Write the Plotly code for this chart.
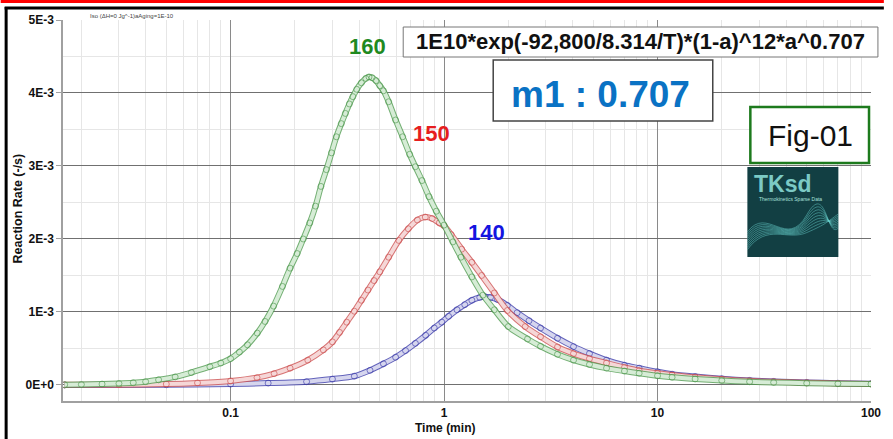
import plotly.graph_objects as go

# Reaction rate (units of 1E-3 /s) versus time (min) at three isothermal temperatures
RATE_UNIT = 1e-3

time_160 = [0.0167, 0.02, 0.025, 0.03, 0.035, 0.04, 0.046, 0.055, 0.0655, 0.08, 0.09, 0.1,
            0.11, 0.12, 0.1334, 0.145, 0.159, 0.175, 0.19, 0.205, 0.219, 0.235, 0.25, 0.265,
            0.281, 0.297, 0.313, 0.33, 0.345, 0.36, 0.374, 0.39, 0.41, 0.43, 0.445, 0.46,
            0.48, 0.50, 0.52, 0.55, 0.593, 0.64, 0.69, 0.734, 0.788, 0.85, 0.92, 1.0, 1.1,
            1.2, 1.35, 1.52, 1.72, 2.0, 2.46, 2.83, 3.4, 4.04, 4.8, 5.77, 7.0, 8.2, 10,
            11.7, 15, 20, 27, 35, 50, 70, 100]
rate_160 = [0.003, 0.006, 0.012, 0.02, 0.03, 0.045, 0.07, 0.11, 0.17, 0.25, 0.30, 0.36,
            0.45, 0.55, 0.71, 0.87, 1.08, 1.35, 1.60, 1.80, 2.0, 2.22, 2.45, 2.72,
            2.95, 3.18, 3.40, 3.58, 3.72, 3.85, 3.95, 4.05, 4.14, 4.20, 4.22, 4.21,
            4.17, 4.10, 4.03, 3.88, 3.63, 3.40, 3.16, 2.99, 2.80, 2.58, 2.38, 2.19, 1.96,
            1.75, 1.48, 1.23, 1.03, 0.80, 0.63, 0.53, 0.42, 0.34, 0.28, 0.23, 0.19, 0.16, 0.125,
            0.105, 0.082, 0.060, 0.044, 0.034, 0.024, 0.017, 0.012]

time_150 = [0.0167, 0.03, 0.05, 0.07, 0.1, 0.133, 0.16, 0.19, 0.23, 0.272, 0.30, 0.324,
            0.35, 0.38, 0.41, 0.44, 0.47, 0.50, 0.55, 0.614, 0.68, 0.75, 0.817, 0.88,
            0.95, 1.0, 1.08, 1.21, 1.35, 1.5, 1.72, 1.98, 2.4, 2.83, 3.4, 4.04, 4.8,
            5.77, 7.0, 8.2, 10, 11.7, 15, 20, 27, 35, 50, 70, 100]
rate_150 = [0.001, 0.004, 0.012, 0.028, 0.055, 0.10, 0.155, 0.23, 0.34, 0.48, 0.59, 0.72,
            0.86, 1.01, 1.16, 1.30, 1.43, 1.55, 1.75, 1.98, 2.14, 2.26, 2.30, 2.28,
            2.22, 2.18, 2.06, 1.86, 1.68, 1.50, 1.26, 1.02, 0.80, 0.66, 0.52, 0.43, 0.36,
            0.30, 0.24, 0.196, 0.16, 0.137, 0.105, 0.077, 0.056, 0.043, 0.030, 0.021, 0.014]

time_140 = [0.0167, 0.05, 0.1, 0.15, 0.227, 0.3, 0.38, 0.45, 0.52, 0.593, 0.66, 0.734,
            0.82, 0.9, 0.976, 1.05, 1.15, 1.25, 1.35, 1.47, 1.55, 1.65, 1.78, 1.98, 2.2,
            2.5, 2.83, 3.4, 4.04, 4.8, 5.77, 7.0, 8.2, 10, 11.7, 15, 20, 27, 35, 50, 70, 100]
rate_140 = [0.0, 0.003, 0.012, 0.025, 0.045, 0.08, 0.12, 0.20, 0.29, 0.38, 0.47, 0.57,
            0.68, 0.78, 0.86, 0.94, 1.03, 1.10, 1.16, 1.20, 1.21, 1.20, 1.17, 1.09, 0.99,
            0.88, 0.78, 0.64, 0.525, 0.43, 0.34, 0.27, 0.23, 0.18, 0.147, 0.115, 0.085,
            0.062, 0.048, 0.034, 0.024, 0.016]

y_tick_vals = [0, 1e-3, 2e-3, 3e-3, 4e-3, 5e-3]
y_tick_text = ["<b>0E+0</b>", "<b>1E-3</b>", "<b>2E-3</b>", "<b>3E-3</b>", "<b>4E-3</b>", "<b>5E-3</b>"]
x_tick_vals = [0.1, 1, 10, 100]
x_tick_text = ["<b>0.1</b>", "<b>1</b>", "<b>10</b>", "<b>100</b>"]

series = [
    ("140", time_140, rate_140, "rgba(60,60,170,0.8)", "rgb(214,214,238)"),
    ("150", time_150, rate_150, "rgba(205,80,80,0.8)", "rgb(245,215,215)"),
    ("160", time_160, rate_160, "rgba(80,155,80,0.8)", "rgb(214,236,214)"),
]

W, H = 893, 439
L, R, T, B = 63, 880, 20, 401
FONT = "Liberation Sans, Arial, sans-serif"


def px(x):
    return (x - L) / (R - L)


def py(y):
    return (B - y) / (B - T)


fig = go.Figure()
for name, t, r, edge, inner in series:
    y = [v * RATE_UNIT for v in r]
    fig.add_trace(go.Scatter(x=t, y=y, mode="lines", name=name, showlegend=False,
                             line=dict(color=edge, width=6, shape="spline", smoothing=0.8),
                             hoverinfo="skip"))
    fig.add_trace(go.Scatter(x=t, y=y, mode="lines", showlegend=False,
                             line=dict(color=inner, width=4, shape="spline", smoothing=0.8),
                             hoverinfo="skip"))
    fig.add_trace(go.Scatter(x=t, y=y, mode="markers", showlegend=False,
                             marker=dict(symbol="circle-open", size=6, color=edge,
                                         line=dict(width=0.8, color=edge)),
                             hovertemplate="%{x} min<br>%{y:.2e} /s<extra>" + name + "</extra>"))

fig.update_xaxes(type="log", range=[-1.785, 2.0], tickmode="array",
                 tickvals=x_tick_vals, ticktext=x_tick_text,
                 showgrid=True, gridcolor="#8a8a8a", gridwidth=1,
                 minor=dict(dtick="D1", showgrid=True, gridcolor="#e6e6e6", gridwidth=1),
                 showline=True, linecolor="#a0a0a0", linewidth=1.5, zeroline=False,
                 ticks="", tickfont=dict(family=FONT, size=12, color="#111"))
fig.update_yaxes(range=[-0.22e-3, 5e-3], tickmode="array", tickvals=y_tick_vals,
                 ticktext=y_tick_text, showgrid=True, gridcolor="#707070", gridwidth=1,
                 minor=dict(tickmode="linear", tick0=0, dtick=0.5e-3, showgrid=True,
                            gridcolor="#e6e6e6", gridwidth=1),
                 showline=True, linecolor="#a0a0a0", linewidth=1.5, zeroline=False,
                 ticks="outside", ticklen=5, tickcolor="#a0a0a0",
                 tickfont=dict(family=FONT, size=12, color="#111"))

shapes = [
    # red band along the top edge and black frame
    dict(type="rect", xref="paper", yref="paper", x0=px(0), x1=px(W), y0=py(0), y1=py(3),
         fillcolor="#ff0000", line=dict(width=0), layer="above"),
    dict(type="line", xref="paper", yref="paper", x0=px(4), x1=px(W), y0=py(8), y1=py(8),
         line=dict(color="#000", width=3), layer="above"),
    dict(type="line", xref="paper", yref="paper", x0=px(5.5), x1=px(5.5), y0=py(7), y1=py(H),
         line=dict(color="#000", width=3), layer="above"),
    # formula box
    dict(type="rect", xref="paper", yref="paper", x0=px(407), x1=px(887), y0=py(27), y1=py(57),
         fillcolor="white", line=dict(color="#777", width=1), layer="above"),
    # m1 box
    dict(type="rect", xref="paper", yref="paper", x0=px(498), x1=px(720), y0=py(60), y1=py(121),
         fillcolor="white", line=dict(color="#444", width=1.5), layer="above"),
    # Fig-01 box
    dict(type="rect", xref="paper", yref="paper", x0=px(758), x1=px(878), y0=py(107), y1=py(163),
         fillcolor="white", line=dict(color="#1d7a1d", width=2.5), layer="above"),
    # logo tile
    dict(type="rect", xref="paper", yref="paper", x0=px(755), x1=px(847), y0=py(167), y1=py(257),
         fillcolor="#123f43", line=dict(width=0), layer="above"),
]

# wave strands of the logo
for i in range(9):
    dy = i * 2.2
    d = "M {},{}".format(px(755), py(232 + dy))
    d += " C {},{} {},{} {},{}".format(px(775), py(205 + dy), px(795), py(250 - dy * 0.5),
                                       px(815), py(215 + dy))
    d += " S {},{} {},{}".format(px(835), py(240 - dy), px(847), py(228 - dy * 0.8))
    shapes.append(dict(type="path", xref="paper", yref="paper", path=d, layer="above",
                       line=dict(color="rgba(110,220,215,0.55)", width=0.8)))


def note(x, y, text, size, color, **kw):
    a = dict(x=px(x), y=py(y), xref="paper", yref="paper", text=text, showarrow=False,
             xanchor="center", yanchor="middle", font=dict(family=FONT, size=size, color=color))
    a.update(kw)
    return a


annotations = [
    note(88, 16, "Iso (\u0394H=0 Jg^-1)aAging=1E-10", 6, "#444", xanchor="left"),
    note(17, 209, "<b>Reaction Rate (-/s)</b>", 12.5, "#111", textangle=-90),
    note(449, 428, "<b>Time (min)</b>", 12, "#111"),
    note(371, 47, "<b>160</b>", 22, "#1f8a1f"),
    note(436, 133, "<b>150</b>", 22, "#e61e1e"),
    note(491, 232, "<b>140</b>", 22, "#1414e0"),
    note(647, 42, "<b>1E10*exp(-92,800/8.314/T)*(1-a)^12*a^0.707</b>", 22, "#111"),
    note(606, 94, "<b>m1 : 0.707</b>", 37, "#0a72c4"),
    note(819, 135, "Fig-01", 30, "#111"),
    note(760, 184, "<b>TKsd</b>", 23, "#7ccac5", xanchor="left"),
    note(765, 199, "Thermokinetics Sparse Data", 5, "#a8e0dc", xanchor="left"),
]

fig.update_layout(width=W, height=H, margin=dict(l=L, r=W - R, t=T, b=H - B),
                  paper_bgcolor="white", plot_bgcolor="white", showlegend=False,
                  shapes=shapes, annotations=annotations)

fig.write_html("out.html")
